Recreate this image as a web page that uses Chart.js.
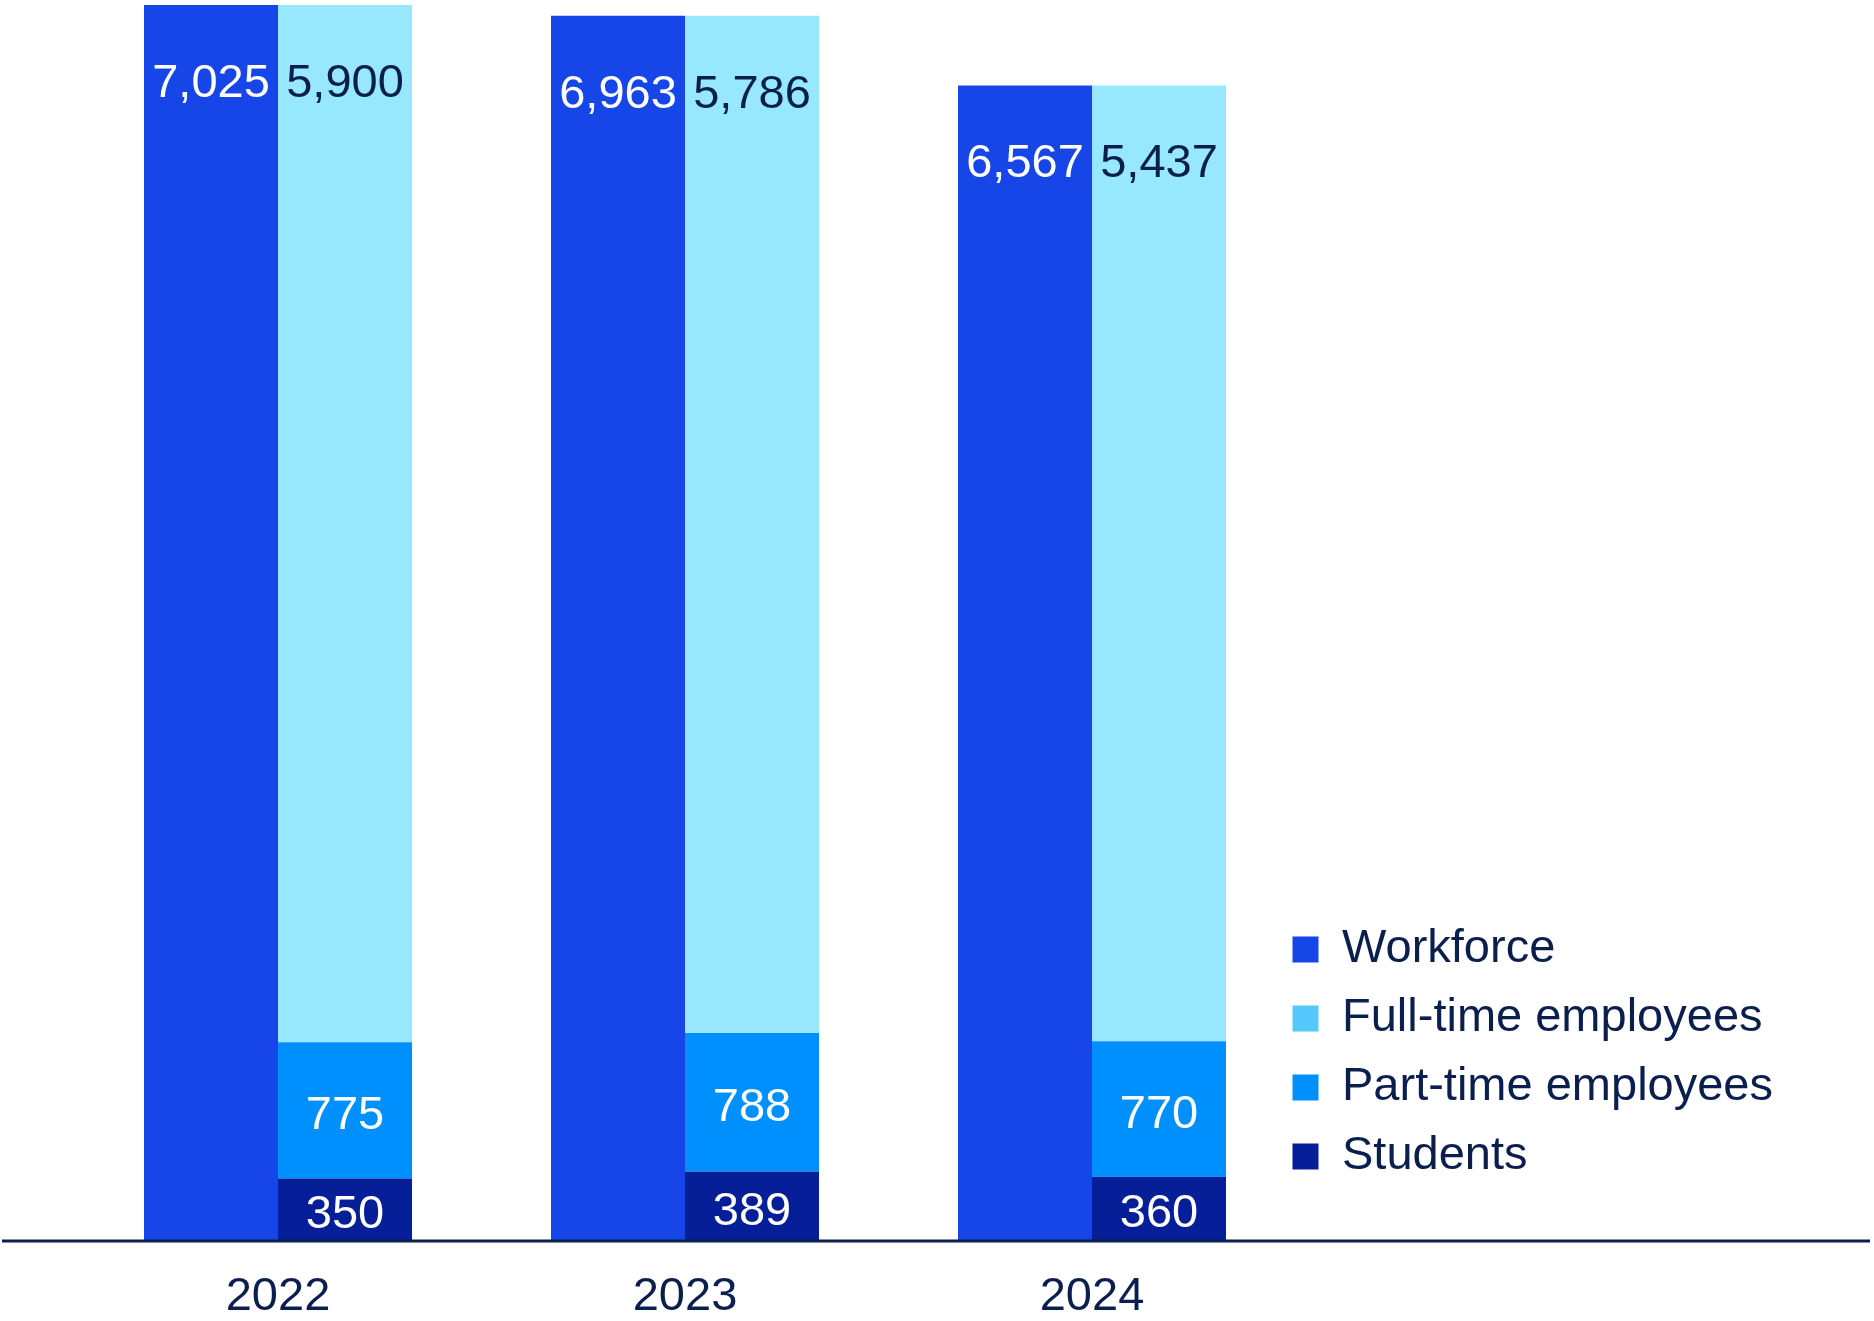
<!DOCTYPE html>
<html>
<head>
<meta charset="utf-8">
<script src="https://cdn.jsdelivr.net/npm/chart.js@4"></script>
<style>
    html, body { margin: 0; padding: 0; background: #fff; }
    #wrap { width: 1874px; height: 1321px; position: relative; }
</style>
</head>
<body>
<div id="wrap"><canvas id="workforceChart"></canvas></div>
<script>
const years = ["2022", "2023", "2024"];
const workforce = [7025, 6963, 6567];
const fullTime = [5900, 5786, 5437];
const partTime = [775, 788, 770];
const students = [350, 389, 360];

const navy = "#0b1f4f";
const fontFamily = "'Liberation Sans', Arial, sans-serif";

// value labels inside the bars
const barLabels = {
    id: "barLabels",
    afterDatasetsDraw(chart) {
        const ctx = chart.ctx;
        ctx.save();
        ctx.font = "47px " + fontFamily;
        ctx.textAlign = "center";
        ctx.textBaseline = "middle";
        chart.data.datasets.forEach((ds, i) => {
            const meta = chart.getDatasetMeta(i);
            ctx.fillStyle = ds.labelColor;
            meta.data.forEach((bar, j) => {
                const y = ds.labelAt === "top" ? bar.y + 79 : (bar.y + bar.base) / 2 + 6;
                ctx.fillText(ds.data[j].toLocaleString("en-US"), bar.x, y);
            });
        });
        ctx.restore();
    }
};

// baseline running across the full width
const baseLine = {
    id: "baseLine",
    afterDatasetsDraw(chart) {
        const ctx = chart.ctx;
        const y = chart.scales.y.getPixelForValue(0) + 1;
        ctx.save();
        ctx.strokeStyle = navy;
        ctx.lineWidth = 3;
        ctx.beginPath();
        ctx.moveTo(2, y);
        ctx.lineTo(1870, y);
        ctx.stroke();
        ctx.restore();
    }
};

// put the legend just right of the bars, near the bottom
const placeLegend = {
    id: "placeLegend",
    afterLayout(chart) {
        const lg = chart.legend;
        const pad = lg.options.labels.padding;
        lg.left = chart.chartArea.right - 3 - pad;
        lg.right = lg.left + lg.width;
        lg.top = 926 - pad;
        lg.bottom = lg.top + 400;
    }
};

const legendRank = [0, 3, 2, 1];

new Chart(document.getElementById("workforceChart"), {
    type: "bar",
    data: {
        labels: years,
        datasets: [
            { label: "Workforce", data: workforce, stack: "a", backgroundColor: "#1746e8",
              labelAt: "top", labelColor: "#ffffff" },
            { label: "Students", data: students, stack: "b", backgroundColor: "#061e98",
              labelAt: "mid", labelColor: "#ffffff" },
            { label: "Part-time employees", data: partTime, stack: "b", backgroundColor: "#0090fe",
              labelAt: "mid", labelColor: "#ffffff" },
            { label: "Full-time employees", data: fullTime, stack: "b", backgroundColor: "#98e8fd",
              legendColor: "#55c9fb", labelAt: "top", labelColor: navy }
        ]
    },
    options: {
        responsive: true,
        maintainAspectRatio: false,
        animation: false,
        layout: { padding: { left: 74.5, right: 578.5, top: 0, bottom: 0 } },
        datasets: {
            bar: { categoryPercentage: 268 / 407, barPercentage: 1, borderWidth: 0 }
        },
        plugins: {
            tooltip: { enabled: false },
            legend: {
                position: "chartArea",
                align: "start",
                labels: {
                    boxWidth: 26,
                    boxHeight: 26,
                    padding: 22,
                    color: navy,
                    font: { size: 47, family: fontFamily },
                    sort: (a, b) => legendRank[a.datasetIndex] - legendRank[b.datasetIndex],
                    generateLabels: (chart) => {
                        const items = Chart.defaults.plugins.legend.labels.generateLabels(chart);
                        items.forEach(item => {
                            const ds = chart.data.datasets[item.datasetIndex];
                            item.fillStyle = ds.legendColor || ds.backgroundColor;
                            item.lineWidth = 0;
                        });
                        return items;
                    }
                }
            }
        },
        scales: {
            x: {
                stacked: true,
                grid: { display: false },
                border: { display: false },
                ticks: {
                    color: navy,
                    padding: 21,
                    font: { size: 47, family: fontFamily }
                },
                afterFit: (scale) => { scale.height = 81; }
            },
            y: {
                stacked: true,
                display: false,
                min: 0,
                max: 7053
            }
        }
    },
    plugins: [barLabels, baseLine, placeLegend]
});
</script>
</body>
</html>
